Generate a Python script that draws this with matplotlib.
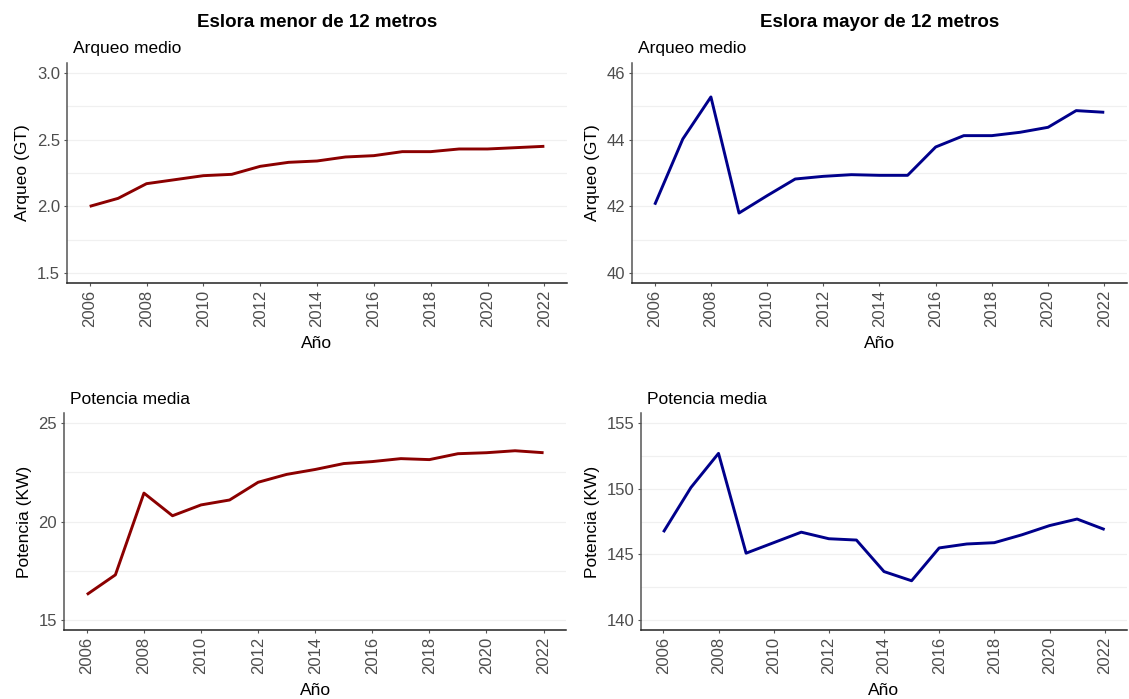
import matplotlib.pyplot as plt
import numpy as np

plt.rcParams['font.family'] = ['Liberation Sans', 'DejaVu Sans']

# data
years = np.arange(2006, 2023)

arqueoMenor = [2.00, 2.06, 2.17, 2.20, 2.23, 2.24, 2.30, 2.33, 2.34,
               2.37, 2.38, 2.41, 2.41, 2.43, 2.43, 2.44, 2.45]
arqueoMayor = [42.05, 44.02, 45.28, 41.80, 42.32, 42.82, 42.90, 42.95, 42.93,
               42.93, 43.78, 44.12, 44.12, 44.22, 44.37, 44.87, 44.82]
potenciaMenor = [16.3, 17.3, 21.45, 20.3, 20.85, 21.1, 22.0, 22.4, 22.65,
                 22.95, 23.05, 23.2, 23.15, 23.45, 23.5, 23.6, 23.5]
potenciaMayor = [146.7, 150.1, 152.7, 145.1, 145.9, 146.7, 146.2, 146.1, 143.7,
                 143.0, 145.5, 145.8, 145.9, 146.5, 147.2, 147.7, 146.9]

xTicks = np.arange(2006, 2023, 2)

RED = '#8B0000'
BLUE = '#00008B'
TICKCOL = '#4D4D4D'
GRIDCOL = '#F0F0F0'


def panel(fig, rect, y, color, ylim, yticks, yminor, ylabel, subtitle, title=None):
    ax = fig.add_axes(rect)
    ax.plot(years, y, color=color, lw=2.1, solid_capstyle='butt')

    # ggplot-like 5% expansion
    span = ylim[1] - ylim[0]
    ax.set_ylim(ylim[0] - 0.05 * span, ylim[1] + 0.05 * span)
    ax.set_xlim(2006 - 0.8, 2022 + 0.8)

    ax.set_yticks(yticks)
    ax.set_yticks(yminor, minor=True)
    ax.set_xticks(xTicks)
    ax.set_xticklabels([str(t) for t in xTicks], rotation=90)
    ax.grid(axis='y', which='both', color=GRIDCOL, lw=0.9)
    ax.set_axisbelow(True)

    for s in ['top', 'right']:
        ax.spines[s].set_visible(False)
    ax.spines['left'].set_color('#555555')
    ax.spines['bottom'].set_color('#222222')
    for s in ['left', 'bottom']:
        ax.spines[s].set_linewidth(1.1)
    ax.tick_params(axis='both', which='major', colors='#555555', labelcolor=TICKCOL,
                   labelsize=12, length=2.5, width=0.8, pad=2.5)
    ax.tick_params(axis='y', which='minor', length=0)

    ax.set_ylabel(ylabel, fontsize=12.5, labelpad=5)
    ax.set_xlabel('Año', fontsize=12.5, labelpad=6)
    ax.set_title(subtitle, loc='left', fontsize=12.5, pad=7, x=0.012)
    if title:
        pos = ax.get_position()
        fig.text((pos.x0 + pos.x1) / 2, 0.968, title, ha='center', va='center',
                 fontsize=13.5, fontweight='bold')
    return ax


fig = plt.figure(figsize=(11.29, 6.99), dpi=100)

panel(fig, [0.0593, 0.595, 0.443, 0.315], arqueoMenor, RED,
      (1.5, 3.0), [1.5, 2.0, 2.5, 3.0], [1.75, 2.25, 2.75],
      'Arqueo (GT)', 'Arqueo medio', 'Eslora menor de 12 metros')
panel(fig, [0.56, 0.595, 0.438, 0.315], arqueoMayor, BLUE,
      (40, 46), [40, 42, 44, 46], [41, 43, 45],
      'Arqueo (GT)', 'Arqueo medio', 'Eslora mayor de 12 metros')
panel(fig, [0.0567, 0.0987, 0.445, 0.31], potenciaMenor, RED,
      (15, 25), [15, 20, 25], [17.5, 22.5],
      'Potencia (KW)', 'Potencia media')
panel(fig, [0.568, 0.0987, 0.43, 0.31], potenciaMayor, BLUE,
      (140, 155), [140, 145, 150, 155], [142.5, 147.5, 152.5],
      'Potencia (KW)', 'Potencia media')

fig.savefig('out.png', dpi=100)
